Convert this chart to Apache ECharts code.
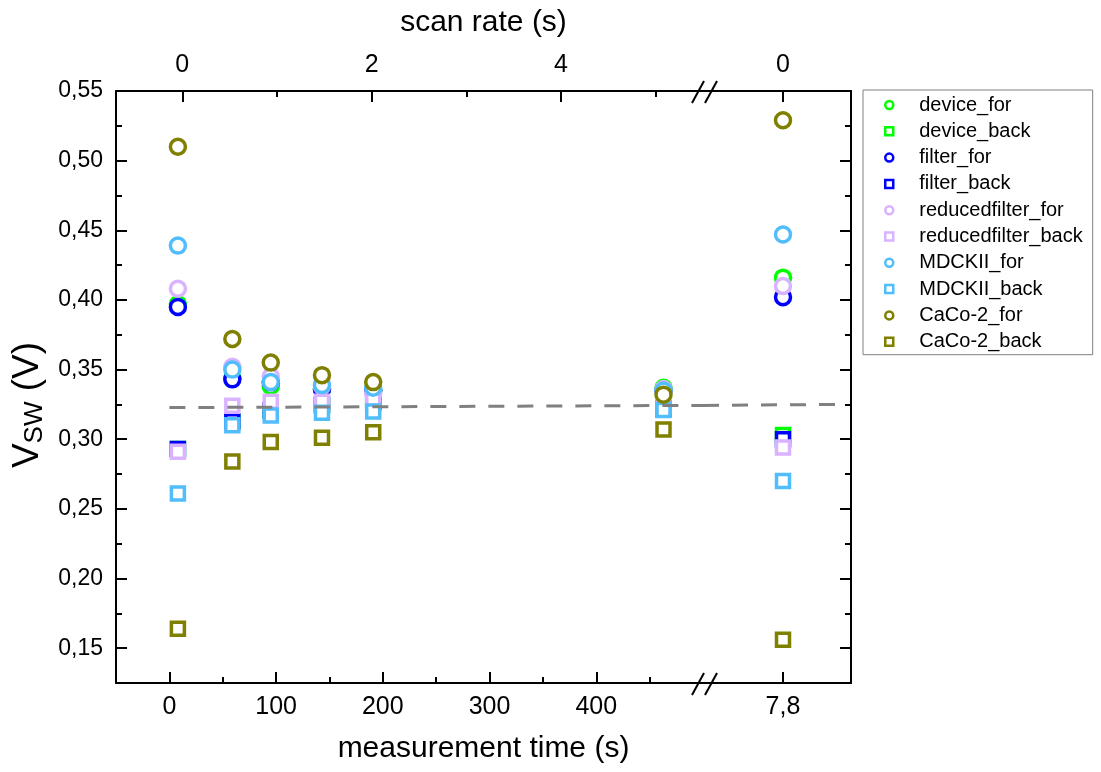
<!DOCTYPE html>
<html>
<head>
<meta charset="utf-8">
<title>V_SW vs measurement time</title>
<script src="https://cdn.jsdelivr.net/npm/echarts@6.0.0/dist/echarts.min.js"></script>
<style>
  html, body { margin: 0; padding: 0; background: #fff; }
  #chart { width: 1101px; height: 772px; }
</style>
</head>
<body>
<div id="chart"></div>
<script>
// measurement time (s) of the points left of the break, last point sits at 7,8 behind the break
const timeValues = [8, 59, 95, 143, 191, 463]
const breakValue = 7.8

// V_SW (V), 6 values for the left part + 1 value at the break
const deviceFor = [0.397, 0.344, 0.338, 0.336, 0.335, 0.337, 0.416]
const deviceBack = [0.293, 0.313, 0.320, 0.324, 0.326, 0.322, 0.303]
const filterFor = [0.395, 0.343, 0.341, 0.336, 0.335, 0.335, 0.402]
const filterBack = [0.293, 0.313, 0.321, 0.325, 0.327, 0.322, 0.300]
const reducedfilterFor = [0.408, 0.352, 0.345, 0.338, 0.333, 0.336, 0.410]
const reducedfilterBack = [0.291, 0.324, 0.327, 0.327, 0.329, 0.323, 0.294]
const mdckiiFor = [0.439, 0.350, 0.341, 0.339, 0.337, 0.335, 0.447]
const mdckiiBack = [0.261, 0.310, 0.317, 0.319, 0.320, 0.321, 0.270]
const cacoFor = [0.510, 0.372, 0.355, 0.346, 0.341, 0.332, 0.529]
const cacoBack = [0.164, 0.284, 0.298, 0.301, 0.305, 0.307, 0.156]

const seriesNames = ['device_for', 'device_back', 'filter_for', 'filter_back',
  'reducedfilter_for', 'reducedfilter_back', 'MDCKII_for', 'MDCKII_back', 'CaCo-2_for', 'CaCo-2_back']
const seriesValues = [deviceFor, deviceBack, filterFor, filterBack,
  reducedfilterFor, reducedfilterBack, mdckiiFor, mdckiiBack, cacoFor, cacoBack]
const seriesColors = ['#00ff00', '#00ff00', '#0000ff', '#0000ff',
  '#d9b3ff', '#d9b3ff', '#52bdfc', '#52bdfc', '#808000', '#808000']

// dashed guide line
const guideLeft = [[0, 0.3227], [500, 0.3243]]
const guideRight = [[7.0, 0.3243], [8.32, 0.325]]

// ticks
const timeTicks = [0, 100, 200, 300, 400]
const timeMinorTicks = [50, 150, 250, 350, 450]
const rateTicks = [0, 2, 4]
const rateMinorTicks = [1, 3, 5]
const voltTicks = [0.15, 0.20, 0.25, 0.30, 0.35, 0.40, 0.45, 0.50, 0.55]
const voltMinorTicks = [0.175, 0.225, 0.275, 0.325, 0.375, 0.425, 0.475, 0.525]

const FONT = '"Liberation Sans", Arial, sans-serif'
const comma = (v, d) => v.toFixed(d).replace('.', ',')
const lineStyle = { color: '#000', width: 2 }

function tickAxis(extra) {
  // axis carrying only inward minor ticks
  return Object.assign({
    type: 'value',
    axisLine: { show: false, onZero: false },
    axisLabel: { show: false },
    splitLine: { show: false }
  }, extra)
}
function minorTicks(values) {
  return { inside: true, length: 6, customValues: values, lineStyle: lineStyle }
}
function majorTicks(values) {
  return { inside: true, length: 11, customValues: values, lineStyle: lineStyle }
}
const xLabel = { margin: 12, fontSize: 25, fontFamily: FONT, color: '#000' }

const xAxis = [
  // 0: measurement time, left part
  {
    type: 'value', gridIndex: 0, position: 'bottom', min: -50, max: 500,
    axisLine: { onZero: false, lineStyle: lineStyle },
    splitLine: { show: false },
    axisTick: majorTicks(timeTicks),
    axisLabel: Object.assign({ customValues: timeTicks }, xLabel)
  },
  // 1: minor ticks of measurement time
  tickAxis({ gridIndex: 0, position: 'bottom', min: -50, max: 500, axisTick: minorTicks(timeMinorTicks) }),
  // 2: scan rate, left part
  {
    type: 'value', gridIndex: 0, position: 'top', min: -0.7, max: 5.5,
    axisLine: { onZero: false, lineStyle: lineStyle },
    splitLine: { show: false },
    axisTick: majorTicks(rateTicks),
    axisLabel: Object.assign({ customValues: rateTicks }, xLabel, { margin: 13 })
  },
  // 3: minor ticks of scan rate
  tickAxis({ gridIndex: 0, position: 'top', min: -0.7, max: 5.5, axisTick: minorTicks(rateMinorTicks) }),
  // 4: right part behind the break (7,8)
  {
    type: 'value', gridIndex: 1, position: 'bottom', min: 7.0, max: 8.48,
    axisLine: { onZero: false, lineStyle: lineStyle },
    splitLine: { show: false },
    axisTick: majorTicks([breakValue]),
    axisLabel: Object.assign({ customValues: [breakValue], formatter: v => comma(v, 1) }, xLabel)
  },
  // 5: right part, scan rate 0
  {
    type: 'value', gridIndex: 1, position: 'top', min: -0.8, max: 0.68,
    axisLine: { onZero: false, lineStyle: lineStyle },
    splitLine: { show: false },
    axisTick: majorTicks([0]),
    axisLabel: Object.assign({ customValues: [0] }, xLabel, { margin: 13 })
  },
  // 6, 7: axis titles centred over the whole plot
  {
    type: 'value', gridIndex: 2, position: 'bottom', min: 0, max: 1,
    axisLine: { show: false, onZero: false }, axisTick: { show: false }, axisLabel: { show: false }, splitLine: { show: false },
    name: 'measurement time (s)', nameLocation: 'middle', nameGap: 51,
    nameTextStyle: { fontSize: 30, fontFamily: FONT, color: '#000' }
  },
  {
    type: 'value', gridIndex: 2, position: 'top', min: 0, max: 1,
    axisLine: { show: false, onZero: false }, axisTick: { show: false }, axisLabel: { show: false }, splitLine: { show: false },
    name: 'scan rate (s)', nameLocation: 'middle', nameGap: 53,
    nameTextStyle: { fontSize: 30, fontFamily: FONT, color: '#000' }
  }
]

const yAxis = [
  // 0: V_SW, left
  {
    type: 'value', gridIndex: 0, position: 'left', min: 0.125, max: 0.55,
    axisLine: { onZero: false, lineStyle: lineStyle },
    splitLine: { show: false },
    axisTick: majorTicks(voltTicks),
    axisLabel: { customValues: voltTicks, margin: 13, fontSize: 23, fontFamily: FONT, color: '#000',
      formatter: v => comma(v, 2) },
    name: '{v|V}{s|SW}{v| (V)}', nameLocation: 'middle', nameGap: 64, nameRotate: 90,
    nameTextStyle: {
      color: '#000',
      padding: [0, 36, 0, 0],
      rich: {
        v: { fontSize: 37, fontFamily: FONT, color: '#000', lineHeight: 40 },
        s: { fontSize: 26, fontFamily: FONT, color: '#000', lineHeight: 18, verticalAlign: 'bottom' }
      }
    }
  },
  tickAxis({ gridIndex: 0, position: 'left', min: 0.125, max: 0.55, axisTick: minorTicks(voltMinorTicks) }),
  // 2, 3: right border of the right part
  {
    type: 'value', gridIndex: 1, position: 'right', min: 0.125, max: 0.55,
    axisLine: { onZero: false, lineStyle: lineStyle },
    splitLine: { show: false },
    axisTick: majorTicks(voltTicks),
    axisLabel: { show: false }
  },
  tickAxis({ gridIndex: 1, position: 'right', min: 0.125, max: 0.55, axisTick: minorTicks(voltMinorTicks) }),
  // 4: dummy for the title grid
  { type: 'value', gridIndex: 2, show: false, min: 0, max: 1 }
]

const series = []
seriesNames.forEach((name, i) => {
  const isFor = name.endsWith('_for')
  const common = {
    name: name,
    type: 'scatter',
    symbol: isFor ? 'circle' : 'rect',
    symbolSize: isFor ? 15 : 13,
    itemStyle: { color: '#fff', borderColor: seriesColors[i], borderWidth: 3.5, opacity: 1 },
    emphasis: { disabled: true }
  }
  series.push(Object.assign({}, common, {
    xAxisIndex: 0, yAxisIndex: 0,
    data: timeValues.map((t, k) => [t, seriesValues[i][k]])
  }))
  series.push(Object.assign({}, common, {
    xAxisIndex: 4, yAxisIndex: 2,
    data: [[breakValue, seriesValues[i][timeValues.length]]]
  }))
})

const guideStyle = { color: '#808080', width: 3, type: [16, 13] }
series.push({ name: 'guide', type: 'line', xAxisIndex: 0, yAxisIndex: 0, symbol: 'none',
  lineStyle: guideStyle, z: 5, silent: true, data: guideLeft })
series.push({ name: 'guide', type: 'line', xAxisIndex: 4, yAxisIndex: 2, symbol: 'none',
  lineStyle: guideStyle, z: 5, silent: true, data: guideRight })

// "//" marks of the axis break
const breakMark = (x, y) => ({
  type: 'line', silent: true, z: 100,
  shape: { x1: x - 6, y1: y + 11, x2: x + 6, y2: y - 11 },
  style: { stroke: '#000', lineWidth: 2 }
})

const chart = echarts.init(document.getElementById('chart'))
chart.setOption({
  animation: false,
  backgroundColor: '#fff',
  textStyle: { fontFamily: FONT },
  grid: [
    { left: 116, top: 91, width: 587, height: 592 },
    { left: 703, top: 91, width: 148, height: 592 },
    { left: 116, top: 91, width: 735, height: 592 }
  ],
  legend: {
    data: seriesNames,
    orient: 'vertical',
    left: 863,
    top: 90,
    padding: [5, 10, 3, 21],
    itemGap: 6.3,
    itemWidth: 8,
    itemHeight: 8,
    borderColor: '#808080',
    borderWidth: 1,
    selectedMode: false,
    itemStyle: { borderWidth: 2.5 },
    textStyle: { fontSize: 20, fontFamily: FONT, color: '#000', lineHeight: 20, padding: [0, 0, 0, 21] }
  },
  xAxis: xAxis,
  yAxis: yAxis,
  series: series,
  graphic: [
    breakMark(698, 92), breakMark(711, 92),
    breakMark(698, 684), breakMark(711, 684)
  ]
})
</script>
</body>
</html>
